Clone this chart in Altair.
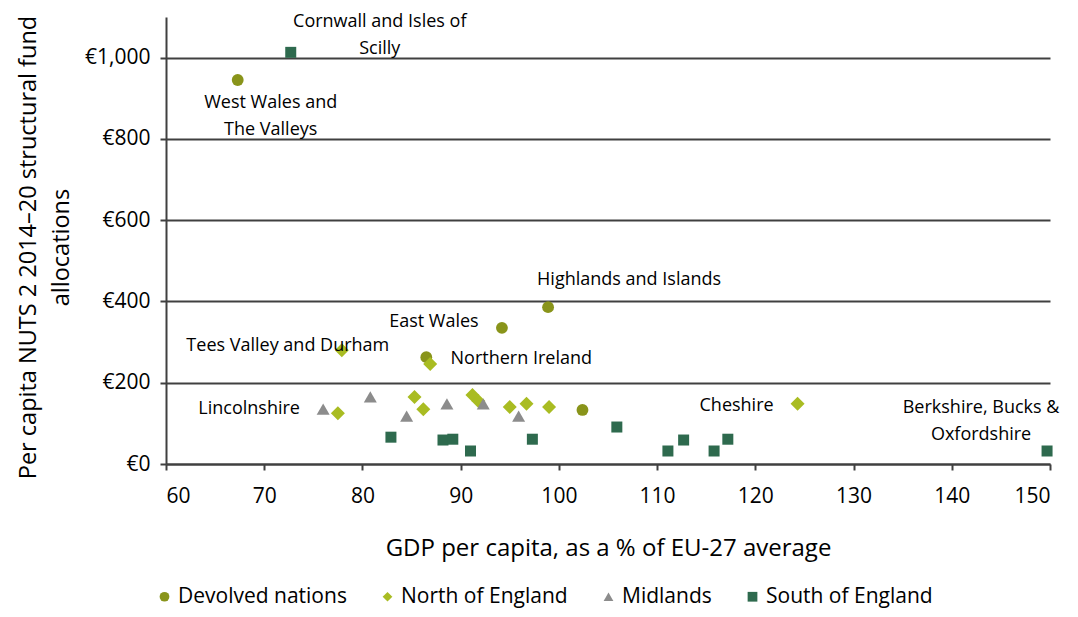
import altair as alt
import pandas as pd

groups = ["Devolved nations", "North of England", "Midlands", "South of England"]
colors = ["#89941A", "#A9BC22", "#8C8C8C", "#2E6A4E"]
shapes = ["circle", "diamond", "triangle-up", "square"]
sizes = [140, 196, 169, 121]

dev_x = [67.3, 94.2, 98.9, 86.5, 102.4]
dev_y = [945, 335, 386, 263, 133]
dev_n = ["West Wales", "East Wales", "Highlands", "Northern Ireland", ""]

north_x = [77.9, 77.5, 86.9, 85.3, 86.2, 91.2, 91.8, 95.0, 96.7, 99.0, 124.3]
north_y = [280, 125, 246, 165, 135, 170, 155, 140, 148, 140, 148]
north_n = ["Tees Valley", "", "", "", "", "", "", "", "", "", "Cheshire"]

mid_x = [76.0, 80.8, 84.5, 88.6, 92.3, 95.9]
mid_y = [135, 165, 118, 148, 148, 118]
mid_n = ["Lincolnshire", "", "", "", "", ""]

south_x = [72.7, 82.9, 88.2, 89.2, 91.0, 97.3, 105.9, 111.1, 112.7, 115.8, 117.2, 149.7]
south_y = [1013, 66, 59, 61, 32, 61, 91, 32, 59, 32, 61, 32]
south_n = ["Cornwall", "", "", "", "", "", "", "", "", "", "", "Berkshire"]

x_ticks = [60, 70, 80, 90, 100, 110, 120, 130, 140, 150]
y_ticks = [0, 200, 400, 600, 800, 1000]

labels = [
    ("Cornwall", "Cornwall and Isles of\nScilly", 89, -30),
    ("West Wales", "West Wales and\nThe Valleys", 33, 23),
    ("Highlands", "Highlands and Islands", 81, -27),
    ("East Wales", "East Wales", -68, -6),
    ("Tees Valley", "Tees Valley and Durham", -54, -4),
    ("Northern Ireland", "Northern Ireland", 95, 2),
    ("Lincolnshire", "Lincolnshire", -74, 0),
    ("Cheshire", "Cheshire", -61, 2),
    ("Berkshire", "Berkshire, Bucks &\nOxfordshire", -66, -43),
]

rows = []
for g, xs, ys, ns in [
    (groups[0], dev_x, dev_y, dev_n),
    (groups[1], north_x, north_y, north_n),
    (groups[2], mid_x, mid_y, mid_n),
    (groups[3], south_x, south_y, south_n),
]:
    for x, y, n in zip(xs, ys, ns):
        rows.append({"group": g, "gdp": x, "alloc": y, "name": n})
df = pd.DataFrame(rows)

FONT = "Open Sans"
AX = "#404040"

x_enc = alt.X(
    "gdp:Q",
    scale=alt.Scale(domain=[60, 150], nice=False, zero=False),
    axis=alt.Axis(
        values=x_ticks, title="GDP per capita, as a % of EU-27 average",
        grid=False, domainColor=AX, domainWidth=2, tickColor=AX, tickWidth=2,
        tickSize=6, labelPadding=15, labelFontSize=21, labelFont=FONT,
        labelColor="#000", titleFont=FONT, titleFontSize=24,
        titleFontWeight="normal", titleColor="#000", titlePadding=30,
    ),
)
y_enc = alt.Y(
    "alloc:Q",
    scale=alt.Scale(domain=[0, 1100], nice=False),
    axis=alt.Axis(
        values=y_ticks,
        labelExpr="'€' + format(datum.value, ',')",
        title=["Per capita NUTS 2 2014–20 structural fund", "allocations"],
        grid=True, gridColor=AX, gridWidth=2, gridOpacity=1,
        domainColor=AX, domainWidth=2, tickColor=AX, tickWidth=2, tickSize=6,
        labelPadding=10, labelFontSize=21, labelFont=FONT, labelColor="#000",
        titleFont=FONT, titleFontSize=23.5, titleFontWeight="normal",
        titleColor="#000", titleLineHeight=33, titlePadding=11, titleY=230,
    ),
)

legend = alt.Legend(title=None, symbolSize=95)
color_enc = alt.Color("group:N", sort=groups,
                      scale=alt.Scale(domain=groups, range=colors),
                      legend=legend)
shape_enc = alt.Shape("group:N", sort=groups,
                      scale=alt.Scale(domain=groups, range=shapes),
                      legend=legend)

point_layers = []
for i, g in enumerate(groups):
    enc = dict(color=color_enc, shape=shape_enc)
    if i == 0:
        enc.update(x=x_enc, y=y_enc)
    else:
        enc.update(x=alt.X("gdp:Q"), y=alt.Y("alloc:Q"))
    point_layers.append(
        alt.Chart(df).transform_filter(alt.datum.group == g).mark_point(
            filled=True, opacity=1, strokeWidth=0, size=sizes[i]
        ).encode(**enc)
    )

text_layers = []
for key, txt, dx, dy in labels:
    text_layers.append(
        alt.Chart(df).transform_filter(alt.datum.name == key).mark_text(
            text=txt, lineBreak="\n", dx=dx, dy=dy, font=FONT, fontSize=18,
            color="#000", align="center", baseline="middle", lineHeight=27,
        ).encode(x=alt.X("gdp:Q"), y=alt.Y("alloc:Q"))
    )

chart = alt.layer(*point_layers, *text_layers).properties(
    width=884, height=447,
    autosize=alt.AutoSizeParams(type="none"),
    padding={"left": 158, "top": 9, "right": 15, "bottom": 145},
).configure_view(stroke=None).configure_legend(
    orient="none", legendX=-12, legendY=569, direction="horizontal",
    labelFont=FONT, labelFontSize=21, labelColor="#000", symbolSize=95,
    columnPadding=30, labelOffset=3, symbolStrokeWidth=0, labelLimit=400,
)

chart.save("out.html", embed_options={"renderer": "svg", "actions": False})
